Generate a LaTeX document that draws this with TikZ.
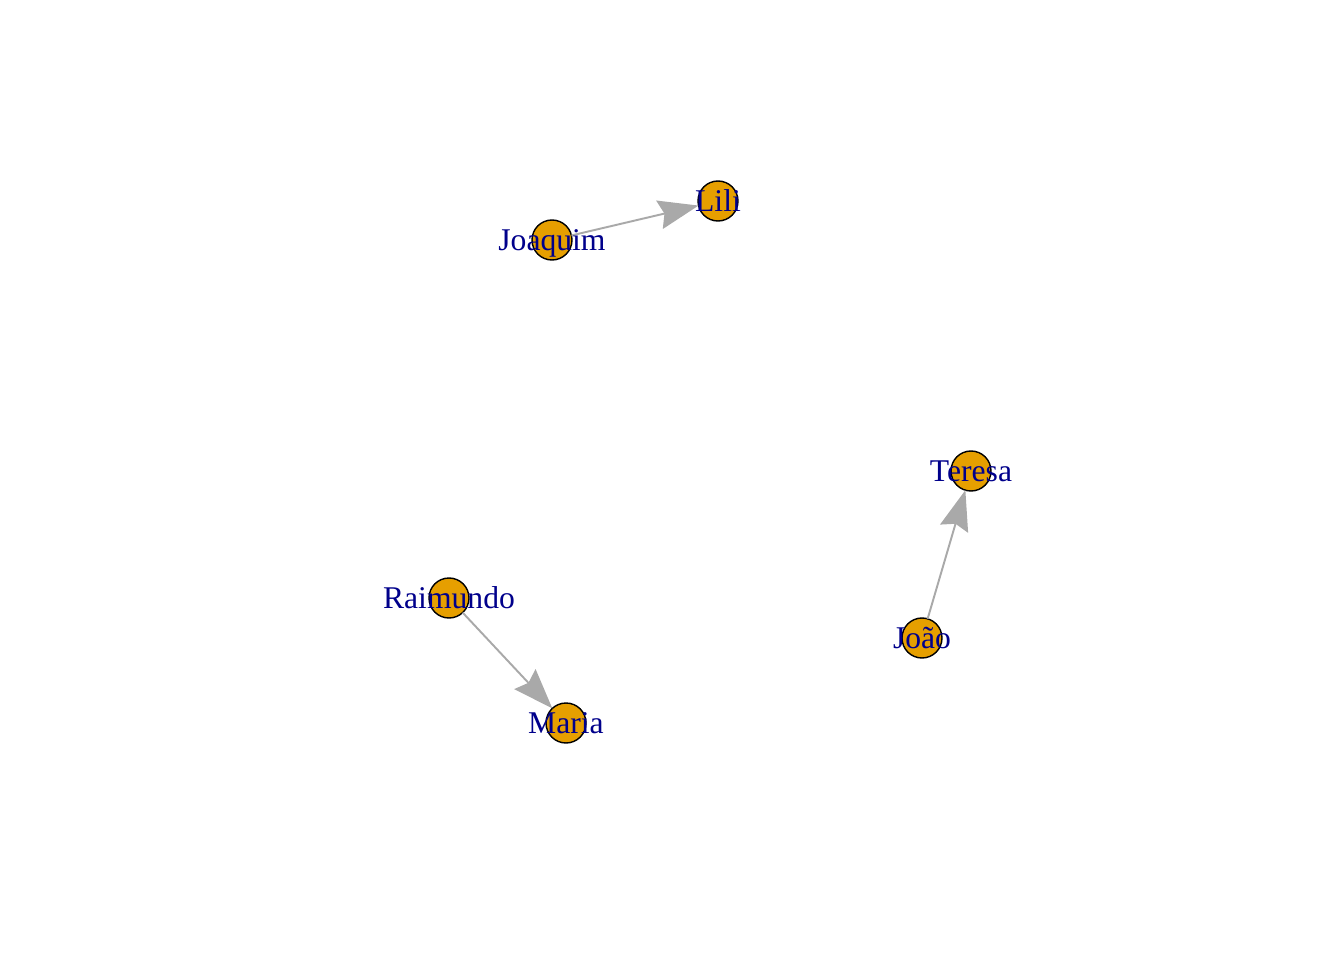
\documentclass[tikz,border=0pt]{standalone}
\usepackage{fontspec}
\setmainfont{Liberation Serif}
\usetikzlibrary{arrows.meta}

\definecolor{vfill}{HTML}{E69F00}
\definecolor{efill}{HTML}{A9A9A9}
\definecolor{lcol}{HTML}{00008B}

\tikzset{
  vertex/.style={circle, draw=black, line width=0.4pt, fill=vfill,
    minimum size=0.4cm, inner sep=0pt, outer sep=0pt},
  vlabel/.style={text=lcol, font=\fontsize{9}{10}\selectfont,
    inner sep=0pt, text depth=0pt},
  edge/.style={draw=efill, line width=0.55pt,
    -{Stealth[length=4mm, width=2.9mm, inset=0.5mm]}}
}

\begin{document}
\begin{tikzpicture}

   \useasboundingbox (0,0) rectangle (13.44,9.6);

   \node[vertex] (joaquim)  at (5.52,7.20) {};
   \node[vertex] (lili)     at (7.18,7.59) {};
   \node[vertex] (raimundo) at (4.49,3.62) {};
   \node[vertex] (maria)    at (5.66,2.37) {};
   \node[vertex] (joao)     at (9.22,3.22) {};
   \node[vertex] (teresa)   at (9.71,4.89) {};

   \draw[edge] (joaquim)  -- (lili);
   \draw[edge] (raimundo) -- (maria);
   \draw[edge] (joao)     -- (teresa);

   \node[vlabel] at (joaquim)  {Joaquim};
   \node[vlabel] at (lili)     {Lili};
   \node[vlabel] at (raimundo) {Raimundo};
   \node[vlabel] at (maria)    {Maria};
   \node[vlabel] at (joao)     {João};
   \node[vlabel] at (teresa)   {Teresa};

\end{tikzpicture}
\end{document}
